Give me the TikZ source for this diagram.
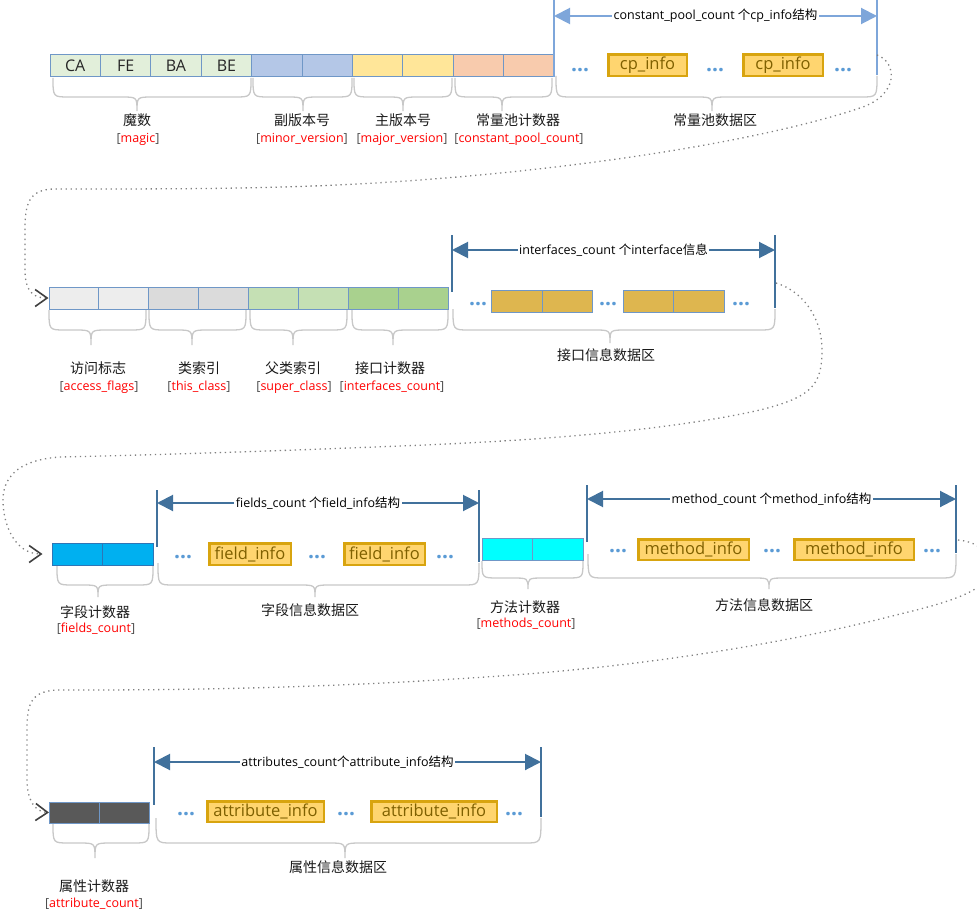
\documentclass[tikz,border=0pt]{standalone}
\usepackage{fontspec}
\setmainfont{Open Sans}
\newfontfamily\cjk{Noto Sans CJK SC}
\usetikzlibrary{arrows.meta}
\definecolor{cellborder}{HTML}{6F97C7}
\definecolor{magicfill}{HTML}{E2EFDA}
\definecolor{minorfill}{HTML}{B4C7E7}
\definecolor{majorfill}{HTML}{FFE699}
\definecolor{cpcntfill}{HTML}{F8CBAD}
\definecolor{accfill}{HTML}{EDEDED}
\definecolor{thisfill}{HTML}{DBDBDB}
\definecolor{superfill}{HTML}{C5E0B4}
\definecolor{ifcntfill}{HTML}{A9D18E}
\definecolor{ifboxfill}{HTML}{DEB64F}
\definecolor{fieldsfill}{HTML}{00B0F0}
\definecolor{fieldsborder}{HTML}{2E75B6}
\definecolor{methodsfill}{HTML}{00FFFF}
\definecolor{attrfill}{HTML}{595959}
\definecolor{infofill}{HTML}{FFD56F}
\definecolor{infoborder}{HTML}{D8A40F}
\definecolor{infotext}{HTML}{7F6000}
\definecolor{barlt}{HTML}{7EA6DA}
\definecolor{bardk}{HTML}{41719C}
\definecolor{bracecol}{HTML}{C8C8C8}
\definecolor{dotblue}{HTML}{5B9BD5}
\definecolor{conncol}{HTML}{808080}
\definecolor{chevcol}{HTML}{404040}
\definecolor{lblred}{HTML}{FF0000}
\newcommand\rl[1]{[\textcolor{lblred}{#1}]}
\newcommand\cb[1]{{\cjk #1}}
\newcommand\curlybr[6]{\draw[bracegray] (#1,#4) .. controls (#1,#5) .. ({#1+16},#5) -- ({#3-16},#5) .. controls (#3,#5) .. (#3,#6) .. controls (#3,#5) .. ({#3+16},#5) -- ({#2-16},#5) .. controls (#2,#5) .. (#2,#4);}
\begin{document}
\begin{tikzpicture}[x=1pt,y=-1pt,
  cell/.style={draw=cellborder, line width=1pt, minimum width=50.4pt, minimum height=22pt, inner sep=0pt, font=\fontsize{16}{18}\selectfont, text=black!85},
  ifcell/.style={cell, fill=ifboxfill, minimum width=50.5pt},
  infobox/.style={draw=infoborder, fill=infofill, line width=2.5pt, inner sep=0pt, minimum height=21.5pt, text=infotext, font=\fontsize{16.5}{18}\selectfont},
  cnlbl/.style={font={\cjk\fontsize{14}{16}\selectfont}, inner sep=0pt, text=black!90},
  rdlbl/.style={font=\fontsize{12.5}{14}\selectfont, inner sep=0pt, text=black!70},
  arrlbl/.style={fill=white, inner sep=1.5pt, font=\fontsize{12.5}{14}\selectfont, text=black},
  dotsnode/.style={text=dotblue, font=\bfseries\fontsize{21}{21}\selectfont, inner sep=0pt},
  barlight/.style={draw=barlt, line width=2.5pt},
  bardark/.style={draw=bardk, line width=2.5pt},
  dimlight/.style={draw=barlt, line width=2pt, arrows={Triangle[length=16pt,width=16pt]-Triangle[length=16pt,width=16pt]}},
  dimdark/.style={draw=bardk, line width=2pt, arrows={Triangle[length=16pt,width=16pt]-Triangle[length=16pt,width=16pt]}},
  bracegray/.style={draw=bracecol, line width=1.3pt},
  conn/.style={draw=conncol, line width=1.3pt, dash pattern=on 1.3pt off 3.7pt, arrows={-Straight Barb[length=12pt,width=17pt,line width=1.6pt,color=chevcol]}}
]
\useasboundingbox (0,0) rectangle (977,912);
\clip (0,0) rectangle (977,912);

% ================= Row 1 =================
\node[cell,fill=magicfill] (m1) at (75.2,66) {CA};
\node[cell,fill=magicfill] (m2) at (125.6,66) {FE};
\node[cell,fill=magicfill] (m3) at (176,66) {BA};
\node[cell,fill=magicfill] (m4) at (226.4,66) {BE};
\node[cell,fill=minorfill] (v1) at (276.8,66) {};
\node[cell,fill=minorfill] (v2) at (327.2,66) {};
\node[cell,fill=majorfill] (j1) at (377.6,66) {};
\node[cell,fill=majorfill] (j2) at (428,66) {};
\node[cell,fill=cpcntfill] (p1) at (478.4,66) {};
\node[cell,fill=cpcntfill] (p2) at (528.8,66) {};

\coordinate (cpLt) at (554,0); \coordinate (cpLb) at (554,77);
\coordinate (cpRt) at (877,0); \coordinate (cpRb) at (877,75);
\draw[barlight] (cpLt) -- (cpLb);
\draw[barlight] (cpRt) -- (cpRb);
\coordinate (cpLa) at (554,16); \coordinate (cpRa) at (877,16);
\draw[dimlight] (cpLa) -- node[arrlbl] {constant\_pool\_count \cb{个}cp\_info\cb{结构}} (cpRa);

\node[dotsnode] (cpd1) at (580,70) {…};
\node[infobox, minimum width=78.5pt] (cpi1) at (647.5,65.5) {cp\_info};
\node[dotsnode] (cpd2) at (715,70) {…};
\node[infobox, minimum width=79.5pt] (cpi2) at (783,65.5) {cp\_info};
\node[dotsnode] (cpd3) at (843,70) {…};

\curlybr{53}{251}{137}{78}{97}{111}
\curlybr{253}{352}{303}{78}{97}{111}
\curlybr{354}{452}{403}{78}{97}{111}
\curlybr{455}{552}{502}{78}{97}{111}
\curlybr{556}{877}{712}{76}{97}{111}

\node[cnlbl] (lmagic) at (137,120) {魔数};
\node[rdlbl] (rmagic) at (138,139) {\rl{magic}};
\node[cnlbl] (lminor) at (302,120) {副版本号};
\node[rdlbl] (rminor) at (302,139) {\rl{minor\_version}};
\node[cnlbl] (lmajor) at (403,120) {主版本号};
\node[rdlbl] (rmajor) at (402,139) {\rl{major\_version}};
\node[cnlbl] (lcpc) at (518,120) {常量池计数器};
\node[rdlbl] (rcpc) at (519,139) {\rl{constant\_pool\_count}};
\node[cnlbl] (lcpd) at (715,120) {常量池数据区};

% ================= Row 2 =================
\begin{scope}[cell/.append style={minimum width=49.9pt}]
\node[cell,fill=accfill] (a1) at (73.95,298) {};
\node[cell,fill=accfill] (a2) at (123.85,298) {};
\node[cell,fill=thisfill] (t1) at (173.75,298) {};
\node[cell,fill=thisfill] (t2) at (223.65,298) {};
\node[cell,fill=superfill] (s1) at (273.55,298) {};
\node[cell,fill=superfill] (s2) at (323.45,298) {};
\node[cell,fill=ifcntfill] (i1) at (373.35,298) {};
\node[cell,fill=ifcntfill] (i2) at (423.25,298) {};
\end{scope}

\coordinate (ifLt) at (452,235); \coordinate (ifLb) at (452,292);
\coordinate (ifRt) at (775,235); \coordinate (ifRb) at (775,308);
\draw[bardark] (ifLt) -- (ifLb);
\draw[bardark] (ifRt) -- (ifRb);
\coordinate (ifLa) at (452,250); \coordinate (ifRa) at (775,250);
\draw[dimdark] (ifLa) -- node[arrlbl] {interfaces\_count \cb{个}interface\cb{信息}} (ifRa);

\node[dotsnode] (ifd1) at (478,304) {…};
\node[ifcell] (ib1) at (516.75,301) {};
\node[ifcell] (ib2) at (567.25,301) {};
\node[dotsnode] (ifd2) at (608,304) {…};
\node[ifcell] (ib3) at (648.25,301) {};
\node[ifcell] (ib4) at (698.75,301) {};
\node[dotsnode] (ifd3) at (741,304) {…};

\curlybr{49}{146}{91}{310}{330}{345}
\curlybr{149}{246}{192}{310}{330}{345}
\curlybr{250}{347}{293}{310}{330}{345}
\curlybr{352}{448}{393}{310}{330}{345}
\curlybr{453}{775}{610}{309}{330}{343}

\node[cnlbl] (lacc) at (98,368) {访问标志};
\node[rdlbl] (racc) at (99,387) {\rl{access\_flags}};
\node[cnlbl] (lthis) at (199,368) {类索引};
\node[rdlbl] (rthis) at (199,387) {\rl{this\_class}};
\node[cnlbl] (lsup) at (293,368) {父类索引};
\node[rdlbl] (rsup) at (294,387) {\rl{super\_class}};
\node[cnlbl] (lifc) at (390,368) {接口计数器};
\node[rdlbl] (rifc) at (392,387) {\rl{interfaces\_count}};
\node[cnlbl] (lifd) at (606,355) {接口信息数据区};

% ================= Row 3 =================
\begin{scope}[cell/.append style={minimum width=50.5pt, draw=fieldsborder}]
\node[cell,fill=fieldsfill] (f1) at (77.25,554) {};
\node[cell,fill=fieldsfill] (f2) at (127.75,554) {};
\end{scope}
\begin{scope}[cell/.append style={minimum width=50.5pt}]
\node[cell,fill=methodsfill] (me1) at (507.5,549) {};
\node[cell,fill=methodsfill] (me2) at (558,549) {};
\end{scope}

\coordinate (fdLt) at (157,490); \coordinate (fdLb) at (157,547);
\coordinate (fdRt) at (479,490); \coordinate (fdRb) at (479,562);
\draw[bardark] (fdLt) -- (fdLb);
\draw[bardark] (fdRt) -- (fdRb);
\coordinate (fdLa) at (157,503); \coordinate (fdRa) at (479,503);
\draw[dimdark] (fdLa) -- node[arrlbl] {fields\_count \cb{个}field\_info\cb{结构}} (fdRa);

\node[dotsnode] (fdd1) at (183,557) {…};
\node[infobox, minimum width=81.5pt] (fi1) at (250,554) {field\_info};
\node[dotsnode] (fdd2) at (317,557) {…};
\node[infobox, minimum width=80.5pt] (fi2) at (384.5,554) {field\_info};
\node[dotsnode] (fdd3) at (445,557) {…};

\coordinate (mdLt) at (587,485); \coordinate (mdLb) at (587,542);
\coordinate (mdRt) at (956,485); \coordinate (mdRb) at (956,553);
\draw[bardark] (mdLt) -- (mdLb);
\draw[bardark] (mdRt) -- (mdRb);
\coordinate (mdLa) at (587,499); \coordinate (mdRa) at (956,499);
\draw[dimdark] (mdLa) -- node[arrlbl] {method\_count \cb{个}method\_info\cb{结构}} (mdRa);

\node[dotsnode] (mdd1) at (618,551) {…};
\node[infobox, minimum width=110.5pt, minimum height=20.5pt] (mi1) at (693.5,549.5) {method\_info};
\node[dotsnode] (mdd2) at (772,551) {…};
\node[infobox, minimum width=119.5pt, minimum height=20.5pt] (mi2) at (854,549.5) {method\_info};
\node[dotsnode] (mdd3) at (932,551) {…};

\curlybr{57}{153}{98}{566}{585}{597}
\curlybr{158}{479}{315}{563}{585}{597}
\curlybr{482}{583}{528}{561}{578}{589}
\curlybr{588}{956}{769}{554}{578}{589}

\node[cnlbl] (lfc) at (95,612) {字段计数器};
\node[rdlbl] (rfc) at (96,629) {\rl{fields\_count}};
\node[cnlbl] (lfd) at (310,610) {字段信息数据区};
\node[cnlbl] (lmc) at (525,607) {方法计数器};
\node[rdlbl] (rmc) at (526,624) {\rl{methods\_count}};
\node[cnlbl] (lmd) at (764,605) {方法信息数据区};

% ================= Row 4 =================
\begin{scope}[cell/.append style={minimum width=50pt, minimum height=21pt}]
\node[cell,fill=attrfill] (g1) at (74.5,812.5) {};
\node[cell,fill=attrfill] (g2) at (124.5,812.5) {};
\end{scope}

\coordinate (adLt) at (154,747); \coordinate (adLb) at (154,805);
\coordinate (adRt) at (541,747); \coordinate (adRb) at (541,817);
\draw[bardark] (adLt) -- (adLb);
\draw[bardark] (adRt) -- (adRb);
\coordinate (adLa) at (154,762); \coordinate (adRa) at (541,762);
\draw[dimdark] (adLa) -- node[arrlbl] {attributes\_count\cb{个}attribute\_info\cb{结构}} (adRa);

\node[dotsnode] (add1) at (186,814) {…};
\node[infobox, minimum width=116.5pt, minimum height=20.5pt] (ai1) at (265.5,811.5) {attribute\_info};
\node[dotsnode] (add2) at (346,814) {…};
\node[infobox, minimum width=125.5pt, minimum height=20.5pt] (ai2) at (434,811.5) {attribute\_info};
\node[dotsnode] (add3) at (514,814) {…};

\curlybr{53}{149}{95}{824}{843}{858}
\curlybr{156}{541}{345}{818}{843}{858}

\node[cnlbl] (lac) at (94,886) {属性计数器};
\node[rdlbl] (rac) at (94,904) {\rl{attribute\_count}};
\node[cnlbl] (lad) at (338,867) {属性信息数据区};

% ================= Connectors =================
\coordinate (c1s) at (877,55);
\draw[conn] (c1s) .. controls (897,62) and (900,95) .. (860,108)
  .. controls (780,135) and (620,165) .. (420,180)
  .. controls (300,189) and (200,189) .. (55,189)
  .. controls (28,189) and (25,205) .. (25,230) -- (25,270)
  .. controls (25,290) and (32,298) .. (a1.west);

\coordinate (c2s) at (776,283);
\draw[conn] (c2s) .. controls (805,292) and (822,320) .. (822,350)
  .. controls (822,385) and (812,397) .. (760,410)
  .. controls (680,428) and (560,440) .. (400,446)
  .. controls (250,452) and (150,455) .. (60,457)
  .. controls (15,460) and (3,480) .. (3,500)
  .. controls (3,525) and (15,554) .. ([xshift=-9pt]f1.west);

\coordinate (c3s) at (958,540);
\draw[conn] (c3s) .. controls (980,542) and (992,555) .. (990,570)
  .. controls (988,588) and (960,600) .. (900,614)
  .. controls (800,640) and (660,665) .. (500,676)
  .. controls (300,690) and (150,690) .. (60,690)
  .. controls (30,690) and (27,705) .. (27,730) -- (27,780)
  .. controls (27,800) and (35,812) .. (g1.west);
\end{tikzpicture}
\end{document}
